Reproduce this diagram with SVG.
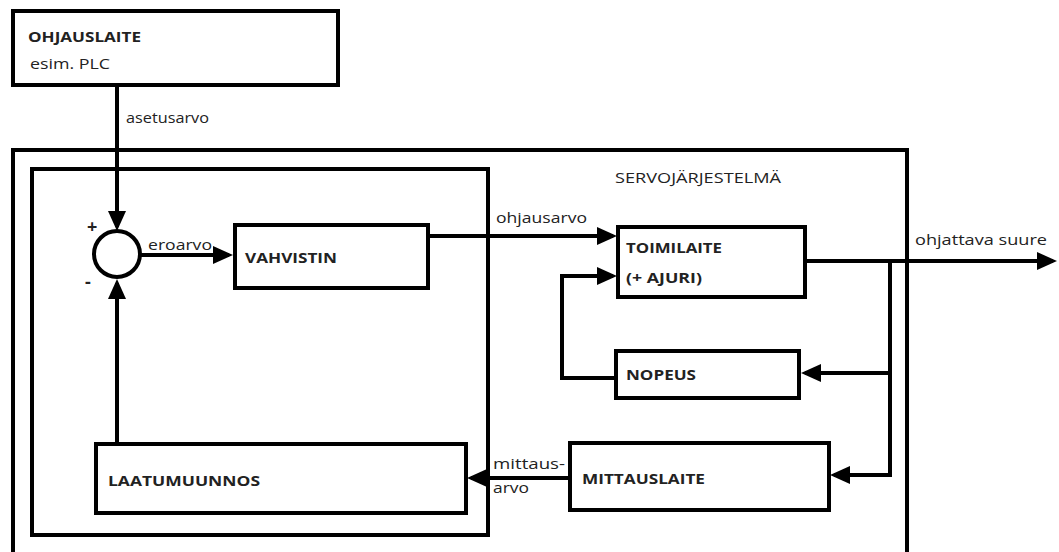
<svg xmlns="http://www.w3.org/2000/svg" width="1059" height="552" viewBox="0 0 1059 552">
<style>
.box{fill:none;stroke:#000;stroke-width:4}
.ln{fill:none;stroke:#000;stroke-width:4;stroke-linejoin:miter}
.arr{marker-end:url(#ah)}
text{font-family:"Open Sans","Noto Sans","DejaVu Sans",sans-serif;font-size:15px;fill:#222}
.b{font-weight:bold}
.s{font-size:18px;font-weight:bold}
</style>
<defs>
<marker id="ah" markerUnits="userSpaceOnUse" viewBox="0 0 20 18" markerWidth="20" markerHeight="18" refX="16" refY="9" orient="auto">
<path d="M0,0 L20,9 L0,18 z" fill="#000"/>
</marker>
</defs>
<rect width="1059" height="552" fill="#fff"/>
<g id="servojarjestelma">
<rect class="box" x="13" y="150" width="894" height="430"/>
<text x="615" y="183" textLength="166" lengthAdjust="spacingAndGlyphs">SERVOJÄRJESTELMÄ</text>
</g>
<g id="inner">
<rect class="box" x="32" y="169" width="456" height="366"/>
</g>
<g id="ohjauslaite">
<rect class="box" x="13" y="11" width="325" height="74"/>
<text class="b" x="28" y="42" textLength="113" lengthAdjust="spacingAndGlyphs">OHJAUSLAITE</text>
<text x="30" y="69" textLength="80" lengthAdjust="spacingAndGlyphs">esim. PLC</text>
</g>
<g id="summain">
<circle class="box" cx="117" cy="254" r="23"/>
<text class="s" x="87" y="233">+</text>
<text class="s" x="85" y="288">-</text>
</g>
<g id="vahvistin">
<rect class="box" x="235" y="225" width="193" height="63"/>
<text class="b" x="245" y="263" textLength="92" lengthAdjust="spacingAndGlyphs">VAHVISTIN</text>
</g>
<g id="toimilaite">
<rect class="box" x="618" y="227" width="187" height="70"/>
<text class="b" x="626" y="253" textLength="96" lengthAdjust="spacingAndGlyphs">TOIMILAITE</text>
<text class="b" x="626" y="283" textLength="76" lengthAdjust="spacingAndGlyphs">(+ AJURI)</text>
</g>
<g id="nopeus">
<rect class="box" x="616" y="351" width="183" height="47"/>
<text class="b" x="626" y="380" textLength="70" lengthAdjust="spacingAndGlyphs">NOPEUS</text>
</g>
<g id="mittauslaite">
<rect class="box" x="570" y="443" width="259" height="67"/>
<text class="b" x="582" y="484" textLength="123" lengthAdjust="spacingAndGlyphs">MITTAUSLAITE</text>
</g>
<g id="laatumuunnos">
<rect class="box" x="96" y="444" width="370" height="69"/>
<text class="b" x="108" y="486" textLength="152" lengthAdjust="spacingAndGlyphs">LAATUMUUNNOS</text>
</g>
<g id="connectors">
<path class="ln arr" d="M117,87 V227"/>
<path class="ln arr" d="M141,255 H229"/>
<path class="ln arr" d="M428,236 H613"/>
<path class="ln arr" d="M616,378 H562 V276 H613"/>
<path class="ln arr" d="M805,261 H1053"/>
<path class="ln" d="M890,261 V477"/>
<path class="ln arr" d="M892,373 H805"/>
<path class="ln arr" d="M892,475 H834"/>
<path class="ln arr" d="M570,478 H471"/>
<path class="ln arr" d="M117,444 V283"/>
</g>
<g id="labels">
<text x="126" y="123" textLength="83" lengthAdjust="spacingAndGlyphs">asetusarvo</text>
<text x="148" y="250" textLength="64" lengthAdjust="spacingAndGlyphs">eroarvo</text>
<text x="496" y="223" textLength="91" lengthAdjust="spacingAndGlyphs">ohjausarvo</text>
<text x="915" y="245" textLength="132" lengthAdjust="spacingAndGlyphs">ohjattava suure</text>
<text x="493" y="469" textLength="72" lengthAdjust="spacingAndGlyphs">mittaus-</text>
<text x="493" y="493" textLength="36" lengthAdjust="spacingAndGlyphs">arvo</text>
</g>
</svg>
